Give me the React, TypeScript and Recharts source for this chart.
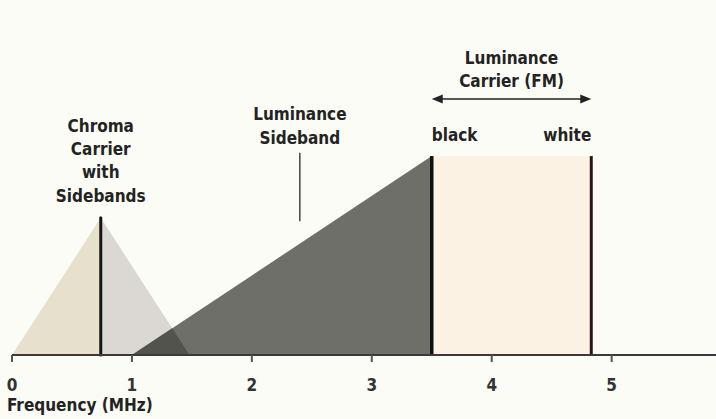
import React from 'react';
import {
  ComposedChart,
  Area,
  XAxis,
  YAxis,
  ReferenceLine,
  ReferenceArea,
} from 'recharts';

// frequency axis (MHz)
const xMax = 5.87;
const xTicks = [0, 1, 2, 3, 4, 5];

// chroma carrier with its sidebands
const chromaFreq = [0, 0.74, 1.48];
const chromaLevel = [0, 40, 0];

// luminance sideband ramp
const lumaFreq = [1.0, 3.5];
const lumaLevel = [0, 58];

// luminance FM carrier: black / white deviation
const carrierBlack = 3.5;
const carrierWhite = 4.83;
const carrierLevel = 58;

// pointer under "Luminance Sideband"
const pointerFreq = 2.4;
const pointerLevel = [39, 59];

const chromaData = chromaFreq.map((x, i) => ({ x, y: chromaLevel[i] }));
const lumaData = lumaFreq.map((x, i) => ({ x, y: lumaLevel[i] }));

// where the falling chroma edge crosses the rising luminance ramp
function crossing() {
  const [ax1, ax2] = [chromaFreq[1], chromaFreq[2]];
  const [ay1, ay2] = [chromaLevel[1], chromaLevel[2]];
  const [bx1, bx2] = lumaFreq;
  const [by1, by2] = lumaLevel;
  const ma = (ay2 - ay1) / (ax2 - ax1);
  const mb = (by2 - by1) / (bx2 - bx1);
  const x = (by1 - ay1 + ma * ax1 - mb * bx1) / (ma - mb);
  return { x, y: ay1 + ma * (x - ax1) };
}
const overlapData = [
  { x: lumaFreq[0], y: 0 },
  crossing(),
  { x: chromaFreq[2], y: 0 },
];

const FONT = '"DejaVu Sans Condensed", "DejaVu Sans", sans-serif';
const INK = '#232323';

const txt = {
  fontFamily: FONT,
  fontWeight: 700,
  fontSize: 17,
  fill: INK,
} as const;

const ChromaLabel = (props: any) => {
  const vb = props.viewBox || {};
  const cx = vb.x + (vb.width || 0) / 2;
  const top = vb.y;
  const lines = ['Chroma', 'Carrier', 'with', 'Sidebands'];
  return (
    <g>
      {lines.map((t, i) => (
        <text key={t} x={cx} y={top - 86 + i * 23.3} textAnchor="middle" {...txt}>
          {t}
        </text>
      ))}
    </g>
  );
};

const SidebandLabel = (props: any) => {
  const vb = props.viewBox || {};
  const cx = vb.x + (vb.width || 0) / 2;
  const top = vb.y;
  return (
    <g>
      <text x={cx} y={top - 33} textAnchor="middle" {...txt}>Luminance</text>
      <text x={cx} y={top - 9} textAnchor="middle" {...txt}>Sideband</text>
    </g>
  );
};

const CarrierLabel = (props: any) => {
  const vb = props.viewBox || {};
  const left = vb.x;
  const right = vb.x + vb.width;
  const cx = (left + right) / 2;
  const top = vb.y;
  const ay = top - 57;
  return (
    <g>
      <text x={cx} y={top - 92} textAnchor="middle" {...txt}>Luminance</text>
      <text x={cx} y={top - 69} textAnchor="middle" {...txt}>Carrier (FM)</text>
      <line x1={left + 6} x2={right - 6} y1={ay} y2={ay} stroke={INK} strokeWidth={1.5} />
      <polygon points={`${left},${ay} ${left + 11},${ay - 4.5} ${left + 11},${ay + 4.5}`} fill={INK} />
      <polygon points={`${right},${ay} ${right - 11},${ay - 4.5} ${right - 11},${ay + 4.5}`} fill={INK} />
      <text x={left} y={top - 15} textAnchor="start" {...txt}>black</text>
      <text x={right} y={top - 15} textAnchor="end" {...txt}>white</text>
    </g>
  );
};

const AxisTitle = (props: any) => {
  const vb = props.viewBox || {};
  return (
    <text x={vb.x - 5} y={vb.y + 56} textAnchor="start" {...txt}>
      Frequency (MHz)
    </text>
  );
};

export default function App() {
  return (
    <div
      style={{
        position: 'absolute',
        left: 0,
        top: 0,
        width: 716,
        height: 419,
        background: '#fcfcf6',
      }}
    >
      <ComposedChart
        width={716}
        height={419}
        margin={{ top: 12, right: 0, left: 12, bottom: 34 }}
      >
        <defs>
          <linearGradient id="chromaFill" x1="0" y1="0" x2="1" y2="0">
            <stop offset="0%" stopColor="#e6e0cd" />
            <stop offset="50%" stopColor="#e6e0cd" />
            <stop offset="50%" stopColor="#dbd7d2" />
            <stop offset="100%" stopColor="#dbd7d2" />
          </linearGradient>
        </defs>
        <XAxis
          type="number"
          dataKey="x"
          domain={[0, xMax]}
          ticks={xTicks}
          allowDataOverflow
          height={30}
          tickSize={7}
          tickMargin={17}
          axisLine={{ stroke: '#3a3a3a', strokeWidth: 2 }}
          tickLine={{ stroke: '#555', strokeWidth: 2 }}
          tick={{ ...txt, fill: '#333' }}
          label={<AxisTitle />}
        />
        <YAxis
          type="number"
          domain={[0, 100]}
          width={0}
          tick={false}
          tickLine={false}
          axisLine={{ stroke: '#6b5c57', strokeWidth: 2 }}
        />
        <ReferenceArea
          x1={carrierBlack}
          x2={carrierWhite}
          y1={0}
          y2={carrierLevel}
          fill="#fbf2e3"
          fillOpacity={1}
          stroke="none"
          label={<CarrierLabel />}
        />
        <Area
          data={chromaData}
          dataKey="y"
          type="linear"
          stroke="none"
          fill="url(#chromaFill)"
          fillOpacity={1}
          isAnimationActive={false}
          dot={false}
          activeDot={false}
        />
        <Area
          data={lumaData}
          dataKey="y"
          type="linear"
          stroke="none"
          fill="#6f6f69"
          fillOpacity={1}
          isAnimationActive={false}
          dot={false}
          activeDot={false}
        />
        <Area
          data={overlapData}
          dataKey="y"
          type="linear"
          stroke="none"
          fill="#53534d"
          fillOpacity={1}
          isAnimationActive={false}
          dot={false}
          activeDot={false}
        />
        <ReferenceLine
          segment={[
            { x: chromaFreq[1], y: 0 },
            { x: chromaFreq[1], y: chromaLevel[1] },
          ]}
          stroke="#151515"
          strokeWidth={3}
          strokeLinecap="round"
          label={<ChromaLabel />}
        />
        <ReferenceLine
          segment={[
            { x: pointerFreq, y: pointerLevel[0] },
            { x: pointerFreq, y: pointerLevel[1] },
          ]}
          stroke="#444"
          strokeWidth={1.5}
          label={<SidebandLabel />}
        />
        <ReferenceLine
          segment={[
            { x: carrierBlack, y: 0 },
            { x: carrierBlack, y: carrierLevel },
          ]}
          stroke="#111"
          strokeWidth={3.5}
        />
        <ReferenceLine
          segment={[
            { x: carrierWhite, y: 0 },
            { x: carrierWhite, y: carrierLevel },
          ]}
          stroke="#2a1515"
          strokeWidth={3}
        />
      </ComposedChart>
    </div>
  );
}
